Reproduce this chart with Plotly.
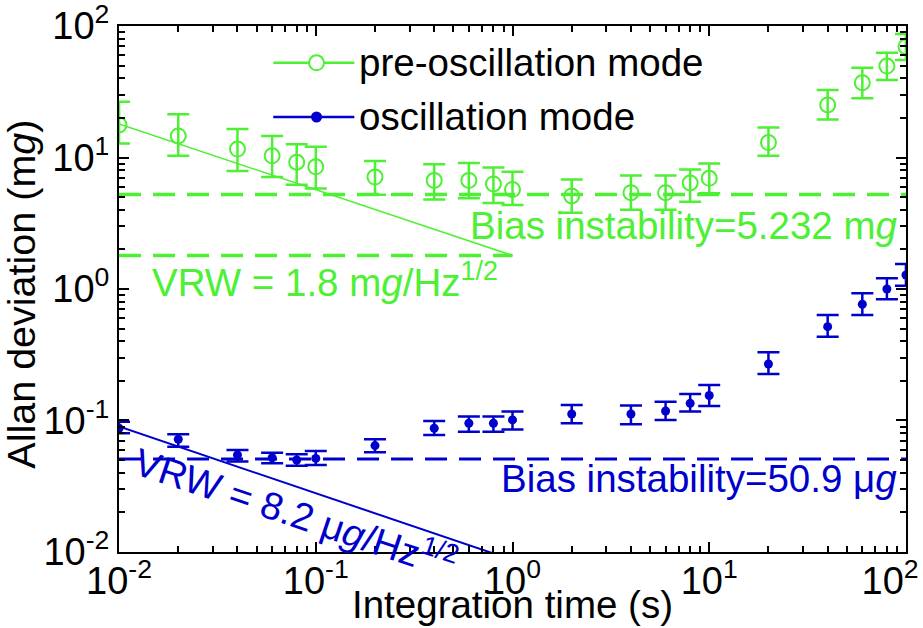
import plotly.graph_objects as go

# ---------------- data ----------------
tau = [0.01, 0.02, 0.04, 0.06, 0.08, 0.1, 0.2, 0.4, 0.6, 0.8, 1,
       2, 4, 6, 8, 10, 20, 40, 60, 80, 100]

pre_name = "pre-oscillation mode"
pre_adev = [17.7, 14.6, 11.6, 10.3, 9.2, 8.5, 7.1, 6.7, 6.7, 6.3, 5.7,
            5.1, 5.4, 5.4, 6.4, 6.95, 13.0, 25.1, 37.1, 49.6, 69.6]
pre_hi = [26.6, 21.3, 16.5, 14.6, 12.6, 12.1, 9.4, 8.9, 9.1, 8.4, 7.8,
          6.8, 7.3, 7.3, 8.1, 9.0, 16.9, 32.6, 48.2, 62.7, 86.9]
pre_lo = [12.8, 10.3, 7.9, 7.1, 6.2, 5.8, 5.2, 4.8, 4.9, 4.5, 4.35,
          3.8, 4.0, 4.0, 4.6, 5.35, 10.3, 19.5, 28.2, 38.8, 55.1]

osc_name = "oscillation mode"
osc_adev = [0.0873, 0.072, 0.0547, 0.0521, 0.0501, 0.0515, 0.0644, 0.0873, 0.0953, 0.0953, 0.101,
            0.112, 0.112, 0.118, 0.135, 0.155, 0.269, 0.517, 0.765, 1.0, 1.277]
osc_hi = [0.098, 0.0785, 0.0597, 0.0569, 0.0553, 0.0586, 0.072, 0.099, 0.107, 0.107, 0.117,
          0.131, 0.130, 0.139, 0.159, 0.186, 0.330, 0.634, 0.927, 1.205, 1.549]
osc_lo = [0.080, 0.0632, 0.0487, 0.0472, 0.0453, 0.0459, 0.0573, 0.0776, 0.0822, 0.0822, 0.0853,
          0.0953, 0.0935, 0.101, 0.117, 0.129, 0.226, 0.434, 0.634, 0.835, 1.059]

# reference lines
pre_bias = 5.232          # mg
osc_bias = 0.0509         # mg (50.9 ug)
pre_vrw_x = [0.01, 1]
pre_vrw_y = [18.0, 1.8]
pre_vrw_flat_x = [0.01, 1]
pre_vrw_flat_y = [1.8, 1.8]
osc_vrw_x = [0.01, 1]
osc_vrw_y = [0.090, 0.0087]
bias_x = [0.01, 100]

x_tickvals = [0.01, 0.1, 1, 10, 100]
x_ticktext = ["10<sup>-2</sup>", "10<sup>-1</sup>", "10<sup>0</sup>", "10<sup>1</sup>",
              "10<sup>2</sup>\u00a0\u00a0\u00a0"]
y_tickvals = [0.01, 0.1, 1, 10, 100]
y_ticktext = ["10<sup>-2</sup>", "10<sup>-1</sup>", "10<sup>0</sup>", "10<sup>1</sup>", "10<sup>2</sup>"]
minor_vals = [m * 10.0 ** e for e in range(-2, 2) for m in range(2, 10)]

GREEN = "rgb(77,240,51)"
BLUE = "rgb(0,0,204)"
FONT = "Arial, Liberation Sans, sans-serif"
FS = 38.5

fig = go.Figure()

def plus(c, h):
    return [hh - cc for cc, hh in zip(c, h)]

def minus(c, l):
    return [cc - ll for cc, ll in zip(c, l)]

# dashed / solid reference lines
fig.add_trace(go.Scatter(x=bias_x, y=[pre_bias, pre_bias], mode="lines",
                         line=dict(color=GREEN, width=3.5, dash="22px,12px"),
                         showlegend=False, hoverinfo="skip"))
fig.add_trace(go.Scatter(x=pre_vrw_flat_x, y=pre_vrw_flat_y, mode="lines",
                         line=dict(color=GREEN, width=3.5, dash="22px,12px"),
                         showlegend=False, hoverinfo="skip"))
fig.add_trace(go.Scatter(x=pre_vrw_x, y=pre_vrw_y, mode="lines",
                         line=dict(color=GREEN, width=1.5),
                         showlegend=False, hoverinfo="skip"))
fig.add_trace(go.Scatter(x=bias_x, y=[osc_bias, osc_bias], mode="lines",
                         line=dict(color=BLUE, width=3, dash="22px,12px"),
                         showlegend=False, hoverinfo="skip"))
fig.add_trace(go.Scatter(x=osc_vrw_x, y=osc_vrw_y, mode="lines",
                         line=dict(color=BLUE, width=2),
                         showlegend=False, hoverinfo="skip"))

# data series
fig.add_trace(go.Scatter(
    x=tau, y=pre_adev, mode="markers", name=pre_name, showlegend=False,
    marker=dict(symbol="circle-open", size=15, color=GREEN, line=dict(width=2, color=GREEN)),
    error_y=dict(type="data", symmetric=False, array=plus(pre_adev, pre_hi),
                 arrayminus=minus(pre_adev, pre_lo), color=GREEN, thickness=2.5, width=11)))
fig.add_trace(go.Scatter(
    x=tau, y=osc_adev, mode="markers", name=osc_name, showlegend=False,
    marker=dict(symbol="circle", size=9, color=BLUE),
    error_y=dict(type="data", symmetric=False, array=plus(osc_adev, osc_hi),
                 arrayminus=minus(osc_adev, osc_lo), color=BLUE, thickness=2.5, width=11)))

# manual legend (paper coordinates)
shapes = []
annotations = []
for yy, col, sym_fill, name in [(0.930, GREEN, False, pre_name), (0.827, BLUE, True, osc_name)]:
    shapes.append(dict(type="line", xref="paper", yref="paper", x0=0.196, x1=0.299, y0=yy, y1=yy,
                       line=dict(color=col, width=2.5)))
    r = 4.5 if sym_fill else 7.5
    shapes.append(dict(type="circle", xref="paper", yref="paper", xsizemode="pixel", ysizemode="pixel",
                       xanchor=0.251, yanchor=yy, x0=-r, x1=r, y0=-r, y1=r,
                       line=dict(color=col, width=2), fillcolor=col if sym_fill else "white"))
    annotations.append(dict(text=name, xref="paper", yref="paper", x=0.302, y=yy, xanchor="left",
                            yanchor="middle", showarrow=False, font=dict(size=FS, color="black", family=FONT)))

# text annotations
annotations += [
    dict(text="Bias instability=5.232 m<i>g</i>", xref="paper", yref="paper", x=0.993, y=0.620,
         xanchor="right", yanchor="middle", showarrow=False, font=dict(size=FS, color=GREEN, family=FONT)),
    dict(text="VRW = 1.8 m<i>g</i>/Hz<sup>1/2</sup>", xref="paper", yref="paper", x=0.040, y=0.518,
         xanchor="left", yanchor="middle", showarrow=False, font=dict(size=FS, color=GREEN, family=FONT)),
    dict(text="Bias instability=50.9 μ<i>g</i>", xref="paper", yref="paper", x=0.991, y=0.140,
         xanchor="right", yanchor="middle", showarrow=False, font=dict(size=FS, color=BLUE, family=FONT)),
    dict(text="VRW = 8.2 μ<i>g</i>/Hz<sup>1/2</sup>", xref="paper", yref="paper", x=0.225, y=0.078,
         xanchor="center", yanchor="middle", textangle=18.5, showarrow=False,
         font=dict(size=FS, color=BLUE, family=FONT)),
    dict(text="Integration time (s)", xref="paper", yref="paper", x=0.5, y=-0.100,
         xanchor="center", yanchor="middle", showarrow=False, font=dict(size=FS, color="black", family=FONT)),
    dict(text="Allan deviation (m<i>g</i>)", xref="paper", yref="paper", x=-0.124, y=0.49,
         xanchor="center", yanchor="middle", textangle=-90, showarrow=False,
         font=dict(size=39.5, color="black", family=FONT)),
]

axis_common = dict(type="log", range=[-2.0002, 2.0002], showgrid=False, zeroline=False,
                   showline=True, linewidth=2, linecolor="black", mirror="allticks",
                   ticks="inside", ticklen=10, tickwidth=2, tickcolor="black",
                   tickfont=dict(size=38, color="black", family=FONT),
                   tickmode="array", ticklabeloverflow="allow", automargin=False,
                   minor=dict(ticks="inside", ticklen=6, tickwidth=1.5, tickcolor="black",
                              tickmode="array", tickvals=minor_vals, showgrid=False))

fig.update_layout(
    width=923, height=628,
    margin=dict(l=119, r=17, t=26, b=76, autoexpand=False),
    paper_bgcolor="white", plot_bgcolor="white",
    xaxis=dict(**axis_common, tickvals=x_tickvals, ticktext=x_ticktext, ticklabelstandoff=-6),
    yaxis=dict(**axis_common, tickvals=y_tickvals, ticktext=y_ticktext),
    shapes=shapes, annotations=annotations, showlegend=False,
)

fig.write_html("out.html")
